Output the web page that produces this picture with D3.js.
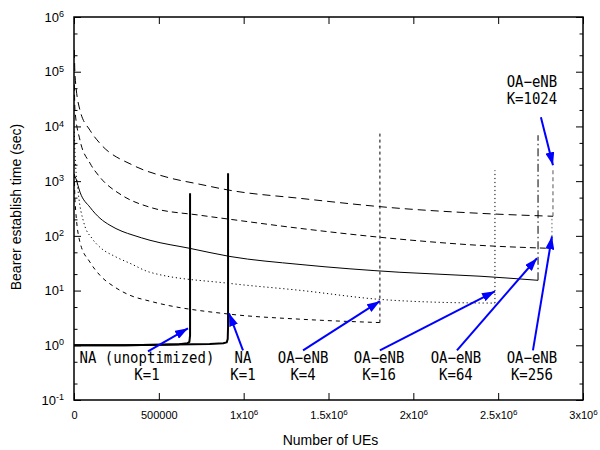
<!DOCTYPE html>
<html>
<head>
<meta charset="utf-8">
<script src="https://cdn.jsdelivr.net/npm/d3@7/dist/d3.min.js"></script>
<style>
body { margin: 0; background: #fff; }
</style>
</head>
<body>
<div id="grafico"></div>
<script>
// Valores: [numero de UEs, tiempo (s)]
let na_unopt = [[0, 1.0], [300000, 1.0], [500000, 1.02], [620000, 1.05], [668000, 1.09], [680000, 1.15], [684000, 1.5], [684000, 600]];
let na_k1 = [[0, 1.0], [300000, 1.0], [600000, 1.03], [800000, 1.06], [880000, 1.09], [900000, 1.13], [906000, 1.3], [908000, 2.2], [908000, 1390]];

let oa_k4 = [[2000, 1350], [5900, 448], [35400, 76], [94300, 33], [153000, 19], [241600, 11.5], [330000, 8.2], [448000, 6.4], [919000, 3.7], [1332000, 3.0], [1803000, 2.6]];
let oa_k16 = [[2000, 8000], [5900, 3300], [23600, 680], [58900, 170], [106000, 90], [153000, 62], [241600, 42], [330000, 31.5], [448000, 21.6], [919000, 13.5], [1332000, 10.1], [1803000, 6.9], [2157000, 6.1], [2481000, 5.9]];
let oa_k64 = [[2000, 1300], [11800, 1100], [35400, 630], [94300, 333], [153000, 210], [212000, 156], [283000, 121], [348000, 103], [448000, 83], [684000, 59], [919000, 42], [1332000, 30], [1921000, 21.6], [2393000, 18.3], [2735000, 15.4]];
let oa_k256 = [[2000, 58000], [5900, 19700], [35400, 5600], [94300, 2130], [153000, 1180], [283000, 550], [448000, 333], [743000, 238], [919000, 201], [1332000, 137], [1921000, 87], [2393000, 67], [2817000, 59]];
let oa_k1024 = [[2000, 250000], [5900, 86000], [35400, 19700], [94300, 8500], [153000, 4900], [348000, 1950], [548000, 1180], [743000, 875], [919000, 680], [1332000, 485], [1921000, 318], [2393000, 258], [2823000, 228]];

// Saltos verticales al final de cada curva
let salto_k4 = [[1803000, 2.6], [1803000, 7500]];
let salto_k16 = [[2481000, 5.9], [2481000, 1580]];
let salto_k64 = [[2735000, 15.4], [2735000, 6900]];
let salto_k256 = [[2817000, 59], [2817000, 228]];
let salto_k1024 = [[2823000, 228], [2823000, 1800]];

// Ticks
let ticks_x = [0, 500000, 1000000, 1500000, 2000000, 2500000, 3000000];
let etiquetas_x = ["0", "500000", "1x10^6", "1.5x10^6", "2x10^6", "2.5x10^6", "3x10^6"];
let ticks_y = [0.1, 1, 10, 100, 1000, 10000, 100000, 1000000];
let exponentes_y = ["-1", "0", "1", "2", "3", "4", "5", "6"];
let ticks_y_menores = [0.2, 0.5, 2, 5, 20, 50, 200, 500, 2000, 5000, 20000, 50000, 200000, 500000];

// Anotaciones: [texto linea 1, texto linea 2, x, y base]
let etiquetas = [
    ["NA (unoptimized)", "K=1", 430000, 0.469],
    ["NA", "K=1", 996000, 0.469],
    ["OA\u2212eNB", "K=4", 1350000, 0.469],
    ["OA\u2212eNB", "K=16", 1798000, 0.469],
    ["OA\u2212eNB", "K=64", 2251000, 0.469],
    ["OA\u2212eNB", "K=256", 2699000, 0.469],
    ["OA\u2212eNB", "K=1024", 2699000, 52000]
];
// Flechas: [x0, y0, x1, y1]
let flechas = [
    [436000, 0.777, 672000, 2.04],
    [996000, 0.81, 913600, 3.85],
    [1350000, 0.81, 1803000, 6.4],
    [1803000, 0.81, 2481000, 9.7],
    [2257000, 0.81, 2729000, 39],
    [2705000, 0.81, 2817000, 98],
    [2752000, 14700, 2823000, 1950]
];

let margin = {top: 17, right: 17, bottom: 50, left: 74},
    width = 600 - margin.left - margin.right,
    height = 450 - margin.top - margin.bottom;

let svg = d3.select("#grafico")
    .append("svg")
    .attr("width", 600)
    .attr("height", 450)
    .style("font-family", "'Liberation Sans', Arial, sans-serif");

svg.append("defs").append("marker")
    .attr("id", "punta")
    .attr("markerUnits", "userSpaceOnUse")
    .attr("markerWidth", 14)
    .attr("markerHeight", 9)
    .attr("refX", 13)
    .attr("refY", 4.5)
    .attr("orient", "auto")
    .append("path")
    .attr("d", "M0,0 L13,4.5 L0,9 z")
    .attr("fill", "#0000ff");

let g = svg.append("g")
    .attr("transform", "translate(" + margin.left + "," + margin.top + ")");

let x = d3.scaleLinear()
    .domain([0, 3000000])
    .range([0, width]);

let y = d3.scaleLog()
    .domain([0.1, 1000000])
    .range([height, 0]);

// Ejes con ticks hacia dentro
function estiloeje(sel) {
    sel.select(".domain").remove();
    sel.selectAll(".tick line").attr("stroke", "#000").attr("stroke-width", 1);
}

g.append("g")
    .attr("transform", "translate(0," + height + ")")
    .call(d3.axisBottom(x).tickValues(ticks_x).tickSize(-7).tickSizeOuter(0).tickPadding(11).tickFormat(""))
    .call(estiloeje)
    .selectAll(".tick text")
    .each(function (d, i) {
        let partes = etiquetas_x[i].split("^");
        let t = d3.select(this)
            .attr("font-size", 11)
            .attr("fill", "#000")
            .text(partes[0]);
        if (partes.length > 1) {
            t.append("tspan").attr("dy", "-0.45em").attr("font-size", 8).text(partes[1]);
        }
    });

g.append("g")
    .call(d3.axisTop(x).tickValues(ticks_x).tickSize(-7).tickSizeOuter(0).tickFormat(""))
    .call(estiloeje);

g.append("g")
    .call(d3.axisLeft(y).tickValues(ticks_y).tickSize(-7).tickSizeOuter(0).tickPadding(10).tickFormat(""))
    .call(estiloeje)
    .selectAll(".tick text")
    .each(function (d, i) {
        let t = d3.select(this)
            .attr("font-size", 13)
            .attr("fill", "#000")
            .text("10");
        t.append("tspan").attr("dy", "-0.5em").attr("font-size", 9).text(exponentes_y[i]);
    });

g.append("g")
    .call(d3.axisLeft(y).tickValues(ticks_y_menores).tickSize(-3.5).tickSizeOuter(0).tickFormat(""))
    .call(estiloeje);

g.append("g")
    .attr("transform", "translate(" + width + ",0)")
    .call(d3.axisRight(y).tickValues(ticks_y).tickSize(-7).tickSizeOuter(0).tickFormat(""))
    .call(estiloeje);

g.append("g")
    .attr("transform", "translate(" + width + ",0)")
    .call(d3.axisRight(y).tickValues(ticks_y_menores).tickSize(-3.5).tickSizeOuter(0).tickFormat(""))
    .call(estiloeje);

// Etiquetas de los ejes
g.append("text")
    .attr("text-anchor", "middle")
    .attr("x", width / 2 + 2)
    .attr("y", height + 45)
    .attr("font-size", 14)
    .text("Number of UEs");

g.append("text")
    .attr("text-anchor", "middle")
    .attr("transform", "rotate(-90)")
    .attr("x", -190)
    .attr("y", -53)
    .attr("font-size", 14)
    .text("Bearer establish time (sec)");

g.append("clipPath").attr("id", "recorte")
    .append("rect").attr("width", width).attr("height", height);

let linea = d3.line()
    .x(function (d) { return x(d[0]); })
    .y(function (d) { return y(d[1]); });

let curva = d3.line()
    .x(function (d) { return x(d[0]); })
    .y(function (d) { return y(d[1]); })
    .curve(d3.curveMonotoneX);

let trazos = g.append("g").attr("clip-path", "url(#recorte)");

function dibujar(datos, generador, ancho, dash, color) {
    trazos.append("path")
        .datum(datos)
        .attr("d", generador)
        .attr("fill", "none")
        .attr("stroke", color || "#000")
        .attr("stroke-width", ancho)
        .attr("stroke-dasharray", dash)
        .attr("stroke-linejoin", "round");
}

dibujar(oa_k1024, curva, 1, "8,5");
dibujar(oa_k256, curva, 1, "6,4");
dibujar(oa_k64, curva, 1, null);
dibujar(oa_k16, curva, 1, "1.2,2.8");
dibujar(oa_k4, curva, 1, "4,4");

dibujar(salto_k4, linea, 1, "3,3");
dibujar(salto_k16, linea, 1, "1.2,2.8");
dibujar(salto_k64, linea, 1, "8,3,1.5,3");
dibujar(salto_k256, linea, 1, "1.5,2.5", "#666");
dibujar(salto_k1024, linea, 1, "4,3", "#555");

dibujar(na_unopt, linea, 2, null);
dibujar(na_k1, linea, 2, null);

// Marco
g.append("rect")
    .attr("width", width)
    .attr("height", height)
    .attr("fill", "none")
    .attr("stroke", "#000")
    .attr("stroke-width", 1.5);

// Flechas azules
g.selectAll(".flecha")
    .data(flechas)
    .enter()
    .append("line")
    .attr("class", "flecha")
    .attr("x1", function (d) { return x(d[0]); })
    .attr("y1", function (d) { return y(d[1]); })
    .attr("x2", function (d) { return x(d[2]); })
    .attr("y2", function (d) { return y(d[3]); })
    .attr("stroke", "#0000ff")
    .attr("stroke-width", 2)
    .attr("marker-end", "url(#punta)");

// Textos de las anotaciones
let textos = g.selectAll(".anotacion")
    .data(etiquetas)
    .enter()
    .append("text")
    .attr("class", "anotacion")
    .attr("text-anchor", "middle")
    .attr("font-family", "'DejaVu Sans Mono', monospace")
    .attr("font-size", 14)
    .attr("transform", function (d) { return "translate(" + x(d[2]) + "," + y(d[3]) + ") scale(1,1.1)"; });

textos.append("tspan")
    .attr("x", 0)
    .attr("y", 0)
    .text(function (d) { return d[0]; });

textos.append("tspan")
    .attr("x", 0)
    .attr("y", 15.5)
    .text(function (d) { return d[1]; });
</script>
</body>
</html>
